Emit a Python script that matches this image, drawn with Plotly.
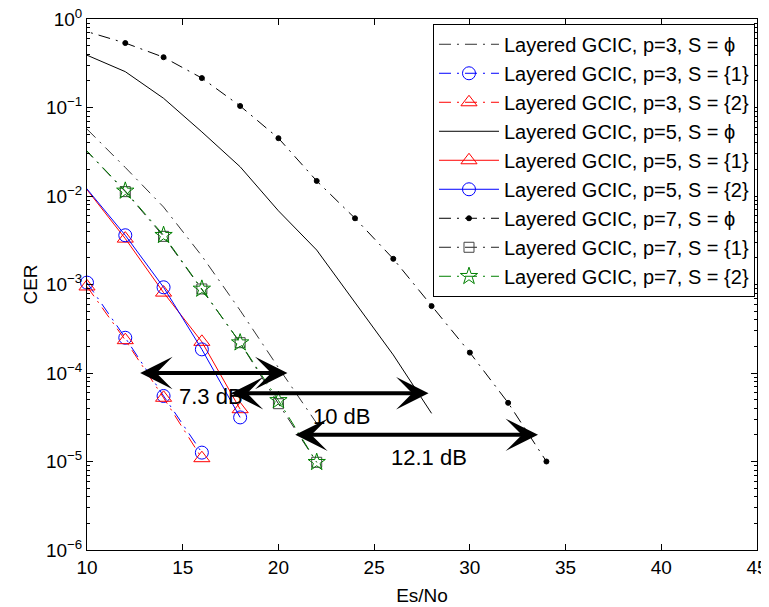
import plotly.graph_objects as go
import numpy as np

# ---------------- data ----------------
x_p3_S = [10, 12, 14, 16]
cer_p3_S1 = [1.05e-3, 2.5e-4, 5.5e-5, 1.26e-5]
cer_p3_S2 = [9.5e-4, 2.35e-4, 5.25e-5, 1.09e-5]

x_p3_phi = [10, 12, 14, 16, 18, 20, 22]
cer_p3_phi = [0.057, 0.021, 0.0075, 0.0021, 5.1e-4, 1.15e-4, 2.7e-5]

x_p5_phi = [10, 12, 14, 16, 18, 20, 22, 24, 26, 28]
cer_p5_phi = [0.39, 0.254, 0.127, 0.053, 0.0214, 0.0068, 0.00245, 6.2e-4, 1.6e-4, 3.5e-5]

x_p5_S = [8, 12, 14, 16, 18]
cer_p5_S1 = [0.042, 0.0033, 8.1e-4, 2.25e-4, 3.9e-5]
cer_p5_S2 = [0.040, 0.0036, 9.3e-4, 1.85e-4, 3.15e-5]

x_p7_phi = [8, 12, 14, 16, 18, 20, 22, 24, 26, 28, 30, 32, 34]
cer_p7_phi = [0.97, 0.535, 0.37, 0.215, 0.104, 0.045, 0.0148, 0.0056, 0.00195,
              5.7e-4, 1.7e-4, 4.6e-5, 1.0e-5]

x_p7_S = [8, 12, 14, 16, 18, 20, 22]
cer_p7_S1 = [0.091, 0.0112, 0.0035, 8.9e-4, 2.2e-4, 4.5e-5, 9.8e-6]
cer_p7_S2 = [0.091, 0.0114, 0.0036, 8.9e-4, 2.2e-4, 4.9e-5, 9.8e-6]

# gain arrows: start x, end x, CER level; labels with their positions
arrow_x0 = [12.7, 17.44, 20.8]
arrow_x1 = [20.47, 27.84, 33.56]
arrow_y = [1.0e-4, 5.9e-5, 2.0e-5]
arrow_labels = ["7.3 dB", "10 dB", "12.1 dB"]
label_x = [16.5, 23.3, 27.85]
label_y = [5.4e-5, 3.2e-5, 1.1e-5]

y_tick_exp = [0, -1, -2, -3, -4, -5, -6]
x_ticks = [10, 15, 20, 25, 30, 35, 40, 45]

# ---------------- figure ----------------
DD = "12px,6px,2px,6px"
FONT = "Liberation Sans, Arial, sans-serif"
TICK_SIZE = 19

fig = go.Figure()

def add(name, x, y, color, dash, symbol=None, msize=11, clip=True, mcolor=None):
    mode = "lines+markers" if symbol else "lines"
    marker = None
    if symbol:
        marker = dict(symbol=symbol, size=msize,
                      color=mcolor or color,
                      line=dict(color=mcolor or color, width=1))
    fig.add_trace(go.Scatter(
        x=x, y=y, name=name, mode=mode,
        line=dict(color=color, width=1, dash=dash),
        marker=marker, cliponaxis=clip, legendgroup=name,
    ))

add("Layered GCIC, p=3, S = ϕ", x_p3_phi, cer_p3_phi, "#333333", DD)
add("Layered GCIC, p=3, S = {1}", x_p3_S, cer_p3_S1, "#0000FF", DD, "circle-open", 13, clip=False)
add("Layered GCIC, p=3, S = {2}", x_p3_S, cer_p3_S2, "#FF0000", DD, "triangle-up-open", 14, clip=False)
add("Layered GCIC, p=5, S = ϕ", x_p5_phi, cer_p5_phi, "#000000", "solid")
add("Layered GCIC, p=5, S = {1}", x_p5_S, cer_p5_S1, "#FF0000", "solid", "triangle-up-open", 14)
add("Layered GCIC, p=5, S = {2}", x_p5_S, cer_p5_S2, "#0000FF", "solid", "circle-open", 13)
add("Layered GCIC, p=7, S = ϕ", x_p7_phi, cer_p7_phi, "#000000", DD, "circle", 5)
add("Layered GCIC, p=7, S = {1}", x_p7_S, cer_p7_S1, "#222222", DD, "square-open", 10, mcolor="#444444")
add("Layered GCIC, p=7, S = {2}", x_p7_S, cer_p7_S2, "#008000", DD, "star-open", 13)

annotations = []
for x0, x1, yv in zip(arrow_x0, arrow_x1, arrow_y):
    annotations.append(dict(
        x=x1, y=np.log10(yv), ax=x0, ay=np.log10(yv),
        xref="x", yref="y", axref="x", ayref="y",
        text="", showarrow=True, arrowhead=3, startarrowhead=3,
        arrowside="end+start", arrowwidth=4, arrowsize=1.35, startarrowsize=1.35,
        arrowcolor="black", standoff=0, startstandoff=0,
    ))
for t, lx, ly in zip(arrow_labels, label_x, label_y):
    annotations.append(dict(
        x=lx, y=np.log10(ly), xref="x", yref="y", text=t, showarrow=False,
        font=dict(family=FONT, size=22, color="black"),
    ))

# the page body adds an 8 px offset: size/margins compensate for it
fig.update_layout(
    width=761, height=599,
    margin=dict(l=79, r=12, t=11, b=57),
    paper_bgcolor="white", plot_bgcolor="white",
    font=dict(family=FONT, size=TICK_SIZE, color="black"),
    showlegend=True,
    legend=dict(
        x=0.997, y=0.991, xanchor="right", yanchor="top",
        bgcolor="white", bordercolor="black", borderwidth=1,
        font=dict(family=FONT, size=20, color="black"),
        traceorder="grouped", tracegroupgap=0, itemwidth=60,
    ),
    annotations=annotations,
)

fig.update_xaxes(
    range=[10, 45], tickmode="array", tickvals=x_ticks,
    ticks="inside", ticklen=6, tickcolor="black", tickwidth=1,
    showline=True, linecolor="black", linewidth=1, mirror="ticks",
    showgrid=False, zeroline=False, automargin=False,
    ticklabeloverflow="allow",
    title=dict(text="Es/No", font=dict(family=FONT, size=TICK_SIZE), standoff=11),
    tickfont=dict(family=FONT, size=TICK_SIZE),
)
fig.update_yaxes(
    type="log", range=[-6, 0],
    tickmode="array", tickvals=[10.0 ** e for e in y_tick_exp],
    ticktext=["10<sup>%s</sup>" % (str(e).replace("-", "−")) for e in y_tick_exp],
    ticks="inside", ticklen=6, tickcolor="black", tickwidth=1,
    minor=dict(ticks="inside", ticklen=3, tickcolor="black", dtick="D1", tickmode="linear", showgrid=False),
    showline=True, linecolor="black", linewidth=1, mirror="ticks",
    showgrid=False, zeroline=False, automargin=False,
    ticklabeloverflow="allow",
    title=dict(text="CER", font=dict(family=FONT, size=TICK_SIZE), standoff=3),
    tickfont=dict(family=FONT, size=TICK_SIZE),
)

fig.write_html("out.html")
